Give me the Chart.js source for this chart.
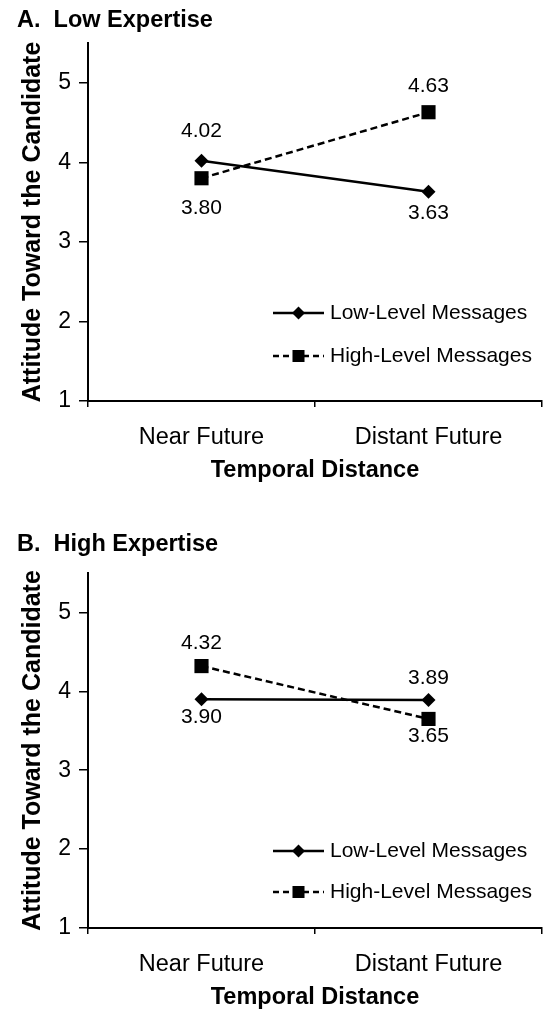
<!DOCTYPE html>
<html><head><meta charset="utf-8">
<script src="https://cdn.jsdelivr.net/npm/chart.js@4"></script>
<style>
html,body{margin:0;padding:0;background:#fff;overflow:hidden;}
#pA{position:relative;width:552px;height:505px;}
#pB{position:relative;width:552px;height:507px;}
</style></head>
<body>
<div id="pA"><canvas id="cA"></canvas></div>
<div id="pB"><canvas id="cB"></canvas></div>
<script>
const categories = ['Near Future', 'Distant Future'];
const seriesNames = ['Low-Level Messages', 'High-Level Messages'];
const lowExpertiseLowLevel = [4.02, 3.63];
const lowExpertiseHighLevel = [3.80, 4.63];
const highExpertiseLowLevel = [3.90, 3.89];
const highExpertiseHighLevel = [4.32, 3.65];
const yTicks = [1, 2, 3, 4, 5];
const panelTitles = ['A.  Low Expertise', 'B.  High Expertise'];
const xTitle = 'Temporal Distance';
const yTitle = 'Attitude Toward the Candidate';

const FAM = '"Liberation Sans", Arial, Helvetica, sans-serif';

const valueLabels = {
  id: 'valueLabels',
  afterDatasetsDraw(chart, args, opts) {
    const ctx = chart.ctx;
    ctx.save();
    ctx.font = opts.font;
    ctx.fillStyle = '#000';
    ctx.textAlign = 'center';
    ctx.textBaseline = 'middle';
    chart.data.datasets.forEach((ds, i) => {
      const meta = chart.getDatasetMeta(i);
      meta.data.forEach((pt, j) => {
        ctx.fillText(ds.data[j].toFixed(2), pt.x, pt.y + opts.offsets[i][j]);
      });
    });
    ctx.restore();
  }
};

const insideLegend = {
  id: 'insideLegend',
  afterDraw(chart, args, opts) {
    const ctx = chart.ctx;
    const ca = chart.chartArea;
    chart.data.datasets.forEach((ds, i) => {
      const y = ca.bottom - opts.rowsFromBottom[i];
      ctx.save();
      ctx.strokeStyle = ds.borderColor;
      ctx.lineWidth = ds.borderWidth;
      ctx.setLineDash(opts.dashes[i]);
      ctx.beginPath();
      ctx.moveTo(opts.x0, y);
      ctx.lineTo(opts.x1, y);
      ctx.stroke();
      ctx.setLineDash([]);
      ctx.fillStyle = '#000';
      ctx.strokeStyle = '#000';
      Chart.helpers.drawPoint(ctx, {pointStyle: ds.pointStyle, radius: opts.markerRadius[i], borderWidth: 0, rotation: 0}, (opts.x0 + opts.x1) / 2, y);
      ctx.font = opts.font;
      ctx.fillStyle = '#000';
      ctx.textAlign = 'left';
      ctx.textBaseline = 'middle';
      ctx.fillText(ds.label, opts.textX, y);
      ctx.restore();
    });
  }
};

function makeChart(id, title, lowVals, highVals, cfg) {
  return new Chart(document.getElementById(id), {
    type: 'line',
    data: {
      labels: categories,
      datasets: [
        {label: seriesNames[0], data: lowVals, borderColor: '#000', backgroundColor: '#000', borderWidth: 2.5,
         pointStyle: 'rectRot', pointRadius: 7, pointBackgroundColor: '#000', pointBorderColor: '#000', pointBorderWidth: 0, tension: 0},
        {label: seriesNames[1], data: highVals, borderColor: '#000', backgroundColor: '#000', borderWidth: 2.5, borderDash: [7, 4],
         pointStyle: 'rect', pointRadius: 10, pointBackgroundColor: '#000', pointBorderColor: '#000', pointBorderWidth: 0, tension: 0}
      ]
    },
    options: {
      responsive: true,
      maintainAspectRatio: false,
      animation: false,
      layout: {padding: {left: 17, right: 0, top: 0, bottom: 0}},
      plugins: {
        legend: {display: false},
        tooltip: {enabled: false},
        title: {display: true, text: title, align: 'start', color: '#000',
                font: {family: FAM, size: 23.5, weight: 'bold'}, padding: cfg.titlePad},
        valueLabels: {font: '21px ' + FAM, offsets: cfg.offsets},
        insideLegend: {font: '21px ' + FAM, x0: 273, x1: 324, textX: 330,
                       rowsFromBottom: cfg.legendRows, markerRadius: [6.5, 8.5], dashes: [[], [6, 4]]}
      },
      scales: {
        x: {
          type: 'category', offset: true,
          afterFit: s => { s.height = cfg.xHeight; },
          grid: {display: true, drawOnChartArea: false, drawTicks: true, tickLength: 6, color: '#000', lineWidth: 1.5, offset: true},
          border: {display: true, color: '#000', width: 2},
          ticks: {color: '#000', font: {family: FAM, size: 23.5}, padding: 16, maxRotation: 0},
          title: {display: true, text: xTitle, color: '#000', font: {family: FAM, size: 23.5, weight: 'bold'}, padding: cfg.xTitlePad}
        },
        y: {
          min: 1, max: 5.5,
          afterBuildTicks: s => { s.ticks = yTicks.map(v => ({value: v})); },
          afterFit: s => { s.width = 71; },
          grid: {display: true, drawOnChartArea: false, tickLength: 9, color: '#000', lineWidth: 1.5},
          border: {display: true, color: '#000', width: 2},
          ticks: {color: '#000', font: {family: FAM, size: 23}, padding: 8},
          title: {display: true, text: yTitle, color: '#000', font: {family: FAM, size: 25, weight: 'bold'}, padding: {top: 1, bottom: 0}}
        }
      }
    },
    plugins: [valueLabels, insideLegend]
  });
}

makeChart('cA', panelTitles[0], lowExpertiseLowLevel, lowExpertiseHighLevel, {
  titlePad: {top: 6, bottom: 8.8},
  xHeight: 104,
  xTitlePad: {top: 8, bottom: 19.9},
  offsets: [[-30, 21], [30, -26]],
  legendRows: [88, 45]
});
makeChart('cB', panelTitles[1], highExpertiseLowLevel, highExpertiseHighLevel, {
  titlePad: {top: 25, bottom: 14.8},
  xHeight: 84,
  xTitlePad: {top: 8, bottom: 0},
  offsets: [[18, -22], [-23, 17]],
  legendRows: [77, 36]
});
</script>
</body></html>
